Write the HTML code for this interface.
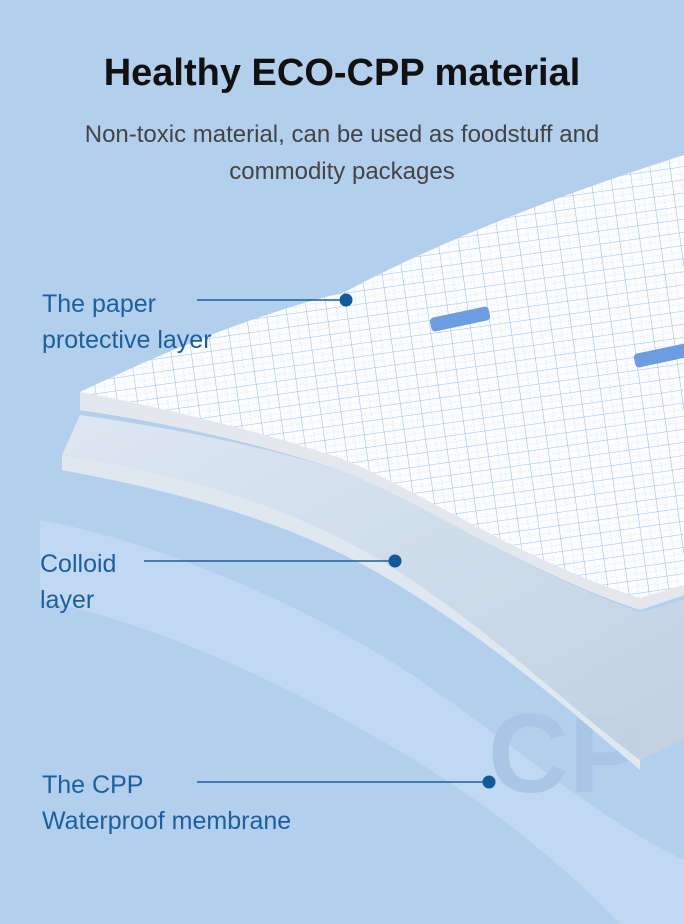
<!DOCTYPE html>
<html><head><meta charset="utf-8"><style>
html,body{margin:0;padding:0}
body{width:684px;height:924px;overflow:hidden;background:#b2cfed;font-family:"Liberation Sans",sans-serif;position:relative}
svg{position:absolute;left:0;top:0}
.t{position:absolute;left:0;width:684px;text-align:center}
.l{position:absolute;color:#1c5f9c;font-size:25px;line-height:36px}
</style></head><body>
<svg width="684" height="924" viewBox="0 0 684 924">
<defs>
<pattern id="g" width="20" height="13" patternUnits="userSpaceOnUse" patternTransform="rotate(-8)">
<rect width="20" height="13" fill="#fbfdff"/>
<path d="M0 0H20M0 0V13" stroke="#7fa8e2" stroke-width="0.8"/>
<path d="M0 6.5H20M10 0V13" stroke="#c7d9f3" stroke-width="0.6" stroke-dasharray="1.5 2"/>
</pattern>
<linearGradient id="c" x1="0" y1="0" x2="1" y2="1">
<stop offset="0" stop-color="#e4ebf3"/><stop offset="1" stop-color="#c3d1e0"/></linearGradient>
</defs>
<path d="M40,520 C150,540 300,600 420,680 C520,750 600,820 684,860 L684,924 L620,924 C560,860 470,790 380,740 C260,670 140,620 40,600 Z" fill="#c4daf2" opacity="0.8"/>
<text x="488" y="792" font-size="112" font-weight="bold" fill="#a9c6e6" font-family="Liberation Sans">CP</text>
<path d="M62,455 C160,470 280,500 380,560 C480,620 560,700 640,760 L684,740 L684,600 L640,612 C520,570 420,500 340,470 C240,440 150,425 80,415 Z" fill="url(#c)" opacity="0.85"/>
<path d="M62,455 L62,470 C170,490 290,520 390,580 C490,640 570,710 640,770 L640,760 C560,700 480,620 380,560 C280,500 160,470 62,455Z" fill="#dfe8f1"/>
<path d="M80,392 C200,335 280,308 345,292 C450,235 590,185 684,155 L684,595 L640,610 C520,570 420,500 340,470 C250,440 150,420 80,410 Z" fill="url(#g)"/>
<path d="M80,392 L80,410 C150,420 250,440 340,470 C420,500 520,570 640,610 L684,595 L684,585 L640,598 C520,560 420,490 340,458 C250,428 150,405 80,392Z" fill="#e4e8ec"/>
<rect x="430" y="312" width="60" height="14" rx="4" fill="#6b9de0" transform="rotate(-12 460 319)"/>
<rect x="634" y="348" width="60" height="14" rx="4" fill="#6b9de0" transform="rotate(-12 664 355)"/>
<g stroke="#1c5f9c" stroke-width="1.5"><line x1="197" y1="300" x2="346" y2="300"/><line x1="144" y1="561" x2="395" y2="561"/><line x1="197" y1="782" x2="489" y2="782"/></g>
<g fill="#125a98"><circle cx="346" cy="300" r="6.5"/><circle cx="395" cy="561" r="6.5"/><circle cx="489" cy="782" r="6.5"/></g>
</svg>
<div class="t" style="top:52px;font-size:38px;font-weight:bold;color:#111">Healthy ECO-CPP material</div>
<div class="t" style="top:116px;font-size:24px;line-height:37px;color:#444">Non-toxic material, can be used as foodstuff and<br>commodity packages</div>
<div class="l" style="left:42px;top:286px">The paper<br>protective layer</div>
<div class="l" style="left:40px;top:546px">Colloid<br>layer</div>
<div class="l" style="left:42px;top:767px">The CPP<br>Waterproof membrane</div>
</body></html>
